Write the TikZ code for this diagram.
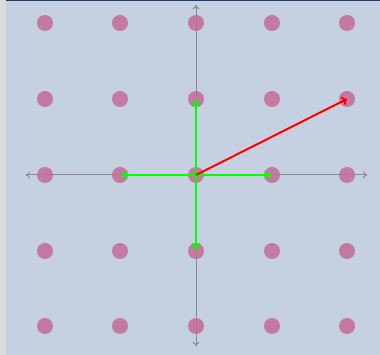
\documentclass[tikz,border=0pt]{standalone}
\usetikzlibrary{arrows.meta}
\definecolor{bgc}{RGB}{197,208,224}
\definecolor{stripc}{RGB}{220,220,220}
\definecolor{topc}{RGB}{25,60,110}
\definecolor{dotc}{RGB}{196,107,149}
\definecolor{axc}{RGB}{140,140,140}
\begin{document}
\begin{tikzpicture}[x=1pt,y=-1pt,
  dot/.style={circle,fill=dotc,fill opacity=0.85,minimum size=16pt,inner sep=0pt},
  axis/.style={axc,line width=1pt,-{To[length=4pt,width=7pt]}},
  vecg/.style={green,line width=2pt,-{Stealth[length=8pt,width=8pt]}},
  vecr/.style={red,line width=2pt,-{To[length=5pt,width=9pt,line width=2pt]}}]
\useasboundingbox (0,0) rectangle (380,355);
\fill[bgc] (0,0) rectangle (380,355);
\fill[stripc] (0,0) rectangle (6,355);
\fill[topc] (6,0) rectangle (380,1.5);
% axes
\coordinate (xl) at (26,175);
\coordinate (xr) at (367,175);
\coordinate (yt) at (196,5);
\coordinate (yb) at (196,346);
\draw[axis] (xr) -- (xl);
\draw[axis] (xl) -- (xr);
\draw[axis] (yb) -- (yt);
\draw[axis] (yt) -- (yb);
% lattice dots
\foreach \i/\x in {0/45,1/120,2/196,3/272,4/347}
  \foreach \j/\y in {0/23,1/99,2/175,3/251,4/326}
    \node[dot] (d\i\j) at (\x,\y) {};
% vectors
\draw[vecg] (d22.center) -- (d32.center);
\draw[vecg] (d22.center) -- (d12.center);
\draw[vecg] (d22.center) -- (d21.center);
\draw[vecg] (d22.center) -- (d23.center);
\draw[vecr] (d22.center) -- (d41.center);
\end{tikzpicture}
\end{document}
